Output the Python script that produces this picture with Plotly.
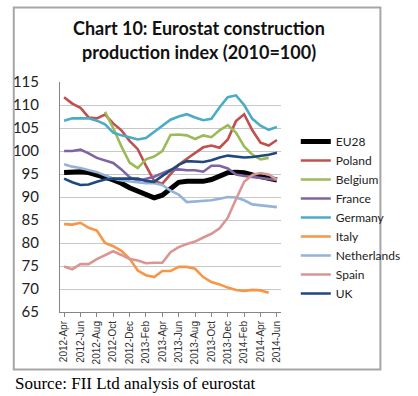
import plotly.graph_objects as go

months = ["2012-Apr", "2012-May", "2012-Jun", "2012-Jul", "2012-Aug", "2012-Sep", "2012-Oct",
          "2012-Nov", "2012-Dec", "2013-Jan", "2013-Feb", "2013-Mar", "2013-Apr", "2013-May",
          "2013-Jun", "2013-Jul", "2013-Aug", "2013-Sep", "2013-Oct", "2013-Nov", "2013-Dec",
          "2014-Jan", "2014-Feb", "2014-Mar", "2014-Apr", "2014-May", "2014-Jun"]

eu28 = [95.3, 95.5, 95.5, 95.3, 94.9, 94.3, 93.7, 93.0, 92.0, 91.2, 90.4, 89.8, 90.4, 91.9,
        93.2, 93.4, 93.3, 93.4, 93.8, 94.6, 95.3, 95.4, 95.3, 94.8, 94.4, 94.1, 93.7]
poland = [111.7, 110.3, 109.4, 107.3, 107.1, 107.9, 106.0, 104.5, 102.2, 100.4, 96.8, 93.5, 92.9,
          95.0, 97.0, 98.3, 99.5, 100.8, 101.2, 100.7, 102.5, 106.5, 108.0, 104.5, 101.8, 101.2, 102.4]
belgium = [None, None, None, None, None, 108.5, 105.0, 101.0, 97.5, 96.3, 98.2, 98.8, 100.0,
           103.5, 103.6, 103.4, 102.6, 103.4, 103.0, 104.5, 105.6, 104.0, 101.0, 99.2, 98.2, 98.5, None]
france = [100.0, 100.0, 100.3, 99.5, 98.5, 98.0, 97.4, 96.0, 94.3, 93.5, 94.0, 94.4, 95.2, 95.9,
          96.0, 95.8, 95.8, 95.5, 96.8, 96.8, 96.2, 94.9, 94.6, 94.4, 94.2, 94.0, 93.7]
germany = [106.6, 107.1, 107.1, 107.1, 106.6, 105.8, 104.0, 103.4, 103.0, 102.5, 102.8, 104.2,
           105.5, 106.8, 107.5, 108.0, 107.3, 106.7, 107.0, 109.5, 111.7, 112.1, 110.0, 107.0,
           105.5, 104.6, 105.2]
italy = [84.1, 84.0, 84.4, 83.3, 82.7, 80.0, 79.3, 78.3, 76.6, 74.0, 73.0, 72.6, 73.9, 73.9,
         74.8, 74.8, 74.4, 72.6, 71.5, 71.0, 70.3, 69.8, 69.6, 69.8, 69.7, 69.2, None]
netherlands = [97.1, 96.6, 96.3, 95.9, 95.4, 94.7, 94.0, 93.6, 93.4, 93.2, 93.0, 93.0, 92.6, 91.4,
               90.5, 88.9, 89.0, 89.2, 89.3, 89.6, 90.0, 89.9, 89.3, 88.4, 88.2, 88.0, 87.8]
spain = [74.9, 74.3, 75.4, 75.4, 76.5, 77.3, 78.2, 77.4, 76.5, 76.2, 75.6, 75.7, 75.7, 78.0,
         79.1, 79.8, 80.3, 81.2, 82.0, 83.2, 85.5, 89.5, 93.3, 94.8, 95.2, 94.9, 93.8]
uk = [94.0, 93.2, 92.6, 92.7, 93.3, 93.8, 94.0, 94.0, 93.9, 94.0, 93.5, 93.3, 94.6, 95.8, 97.0,
      97.8, 97.7, 97.6, 98.0, 98.6, 99.0, 98.8, 98.6, 98.7, 98.9, 99.2, 99.6]

series_names = ["EU28", "Poland", "Belgium", "France", "Germany", "Italy", "Netherlands", "Spain", "UK"]
series_values = [eu28, poland, belgium, france, germany, italy, netherlands, spain, uk]
series_colors = ["#000000", "#C0504D", "#9BBB59", "#8064A2", "#4BACC6", "#F79646", "#95B3D7",
                 "#D99694", "#1F497D"]
series_widths = [5, 2.6, 2.6, 2.6, 2.6, 2.6, 2.6, 2.6, 2.6]

y_ticks = [65, 70, 75, 80, 85, 90, 95, 100, 105, 110, 115]

title_lines = ["Chart 10: Eurostat construction", "production index (2010=100)"]
source_text = "Source: FII Ltd analysis of eurostat"

# plot area in pixels
L, R, T, B = 60, 299, 82, 312
W, H = 418, 396


def px(x):
    return (x - L) / (R - L)


def py(y):
    return (B - y) / (B - T)


fig = go.Figure()
for name, vals, col, lw in zip(series_names, series_values, series_colors, series_widths):
    fig.add_trace(go.Scatter(x=months, y=vals, name=name, mode="lines",
                             line=dict(color=col, width=lw), connectgaps=False))

fig.update_layout(
    width=W, height=H,
    margin=dict(l=L, r=W - R, t=T, b=H - B, pad=0),
    paper_bgcolor="white", plot_bgcolor="white",
    font=dict(family="Lato, Carlito, sans-serif", color="#222222"),
    showlegend=True,
    legend=dict(x=px(315), y=py(127), xanchor="left", yanchor="top",
                font=dict(family="Lato, sans-serif", size=12, color="#222222"),
                bgcolor="rgba(0,0,0,0)", borderwidth=0, itemwidth=30,
                tracegroupgap=0),
    xaxis=dict(type="category", categoryorder="array", categoryarray=months,
               range=[-0.5, len(months) - 0.5], automargin=False,
               tickmode="array", tickvals=months[::2], ticktext=months[::2],
               tickangle=-90, tickfont=dict(family="Liberation Sans, Arial", size=10, color="#333333"),
               showgrid=False, showline=True, linecolor="#868686", linewidth=1,
               ticks="outside", ticklen=4, tickcolor="#868686", zeroline=False),
    yaxis=dict(range=[65, 115], tickmode="array", tickvals=y_ticks, automargin=False,
               tickfont=dict(family="Lato, sans-serif", size=15, color="#222222"),
               showgrid=True, gridcolor="#C8C8C8", gridwidth=1,
               showline=True, linecolor="#868686", linewidth=1,
               ticks="", ticklabelstandoff=17, zeroline=False),
    shapes=[dict(type="rect", xref="paper", yref="paper",
                 x0=px(10), x1=px(406.5), y0=py(369.5), y1=py(7.5),
                 line=dict(color="#A6A6A6", width=2), fillcolor="rgba(0,0,0,0)", layer="below")],
    annotations=[
        dict(text="<b>" + title_lines[0] + "</b>", xref="paper", yref="paper",
             x=px(210), y=py(28), xanchor="center", yanchor="middle", showarrow=False,
             font=dict(family="Lato, sans-serif", size=18, color="#111111")),
        dict(text="<b>" + title_lines[1] + "</b>", xref="paper", yref="paper",
             x=px(210), y=py(52), xanchor="center", yanchor="middle", showarrow=False,
             font=dict(family="Lato, sans-serif", size=18, color="#111111")),
        dict(text=source_text, xref="paper", yref="paper",
             x=px(9), y=py(383), xanchor="left", yanchor="middle", showarrow=False,
             font=dict(family="Liberation Serif, Times New Roman, serif", size=17, color="#000000")),
    ],
)

fig.write_html("out.html", config={"displayModeBar": False},
               post_script="document.body.style.margin='0';document.body.style.overflow='hidden';")
